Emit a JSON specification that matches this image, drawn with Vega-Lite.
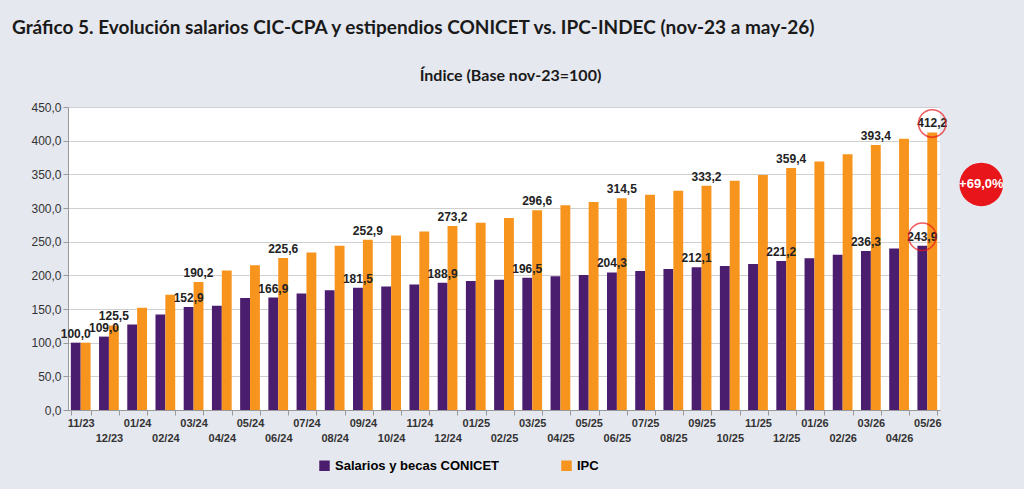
{
  "$schema": "https://vega.github.io/schema/vega-lite/v6.json",
  "width": 872,
  "height": 303,
  "autosize": "none",
  "padding": {"left": 68, "top": 107, "right": 84, "bottom": 79},
  "background": "#e6e8ef",
  "view": {"fill": "white", "stroke": null},
  "title": {"text": "Gráfico 5. Evolución salarios CIC-CPA y estipendios CONICET  vs. IPC-INDEC (nov-23 a may-26)", "anchor": "start", "frame": "group", "dx": -56, "offset": 10, "baseline": "bottom", "font": "Lato", "fontSize": 19, "fontWeight": "bold", "color": "#1a1a1a"},
  "config": {"font": "Liberation Sans", "locale": {"number": {"decimal": ",", "thousands": ".", "grouping": [3], "currency": ["$", ""]}}},
  "data": {"values": [
    {"m":"11/23","s":"Salarios y becas CONICET","v":100.0,"lab":1},{"m":"11/23","s":"IPC","v":100.0,"lab":0},
    {"m":"12/23","s":"Salarios y becas CONICET","v":109.0,"lab":1},{"m":"12/23","s":"IPC","v":125.5,"lab":1},
    {"m":"01/24","s":"Salarios y becas CONICET","v":127,"lab":0},{"m":"01/24","s":"IPC","v":152,"lab":0},
    {"m":"02/24","s":"Salarios y becas CONICET","v":142,"lab":0},{"m":"02/24","s":"IPC","v":171,"lab":0},
    {"m":"03/24","s":"Salarios y becas CONICET","v":152.9,"lab":1},{"m":"03/24","s":"IPC","v":190.2,"lab":1},
    {"m":"04/24","s":"Salarios y becas CONICET","v":155,"lab":0},{"m":"04/24","s":"IPC","v":207,"lab":0},
    {"m":"05/24","s":"Salarios y becas CONICET","v":166.5,"lab":0},{"m":"05/24","s":"IPC","v":215,"lab":0},
    {"m":"06/24","s":"Salarios y becas CONICET","v":166.9,"lab":1},{"m":"06/24","s":"IPC","v":225.6,"lab":1},
    {"m":"07/24","s":"Salarios y becas CONICET","v":173,"lab":0},{"m":"07/24","s":"IPC","v":234,"lab":0},
    {"m":"08/24","s":"Salarios y becas CONICET","v":178,"lab":0},{"m":"08/24","s":"IPC","v":244,"lab":0},
    {"m":"09/24","s":"Salarios y becas CONICET","v":181.5,"lab":1},{"m":"09/24","s":"IPC","v":252.9,"lab":1},
    {"m":"10/24","s":"Salarios y becas CONICET","v":183.5,"lab":0},{"m":"10/24","s":"IPC","v":259,"lab":0},
    {"m":"11/24","s":"Salarios y becas CONICET","v":186.5,"lab":0},{"m":"11/24","s":"IPC","v":265,"lab":0},
    {"m":"12/24","s":"Salarios y becas CONICET","v":188.9,"lab":1},{"m":"12/24","s":"IPC","v":273.2,"lab":1},
    {"m":"01/25","s":"Salarios y becas CONICET","v":191.5,"lab":0},{"m":"01/25","s":"IPC","v":278,"lab":0},
    {"m":"02/25","s":"Salarios y becas CONICET","v":193.5,"lab":0},{"m":"02/25","s":"IPC","v":285,"lab":0},
    {"m":"03/25","s":"Salarios y becas CONICET","v":196.5,"lab":1},{"m":"03/25","s":"IPC","v":296.6,"lab":1},
    {"m":"04/25","s":"Salarios y becas CONICET","v":198.5,"lab":0},{"m":"04/25","s":"IPC","v":304,"lab":0},
    {"m":"05/25","s":"Salarios y becas CONICET","v":200.5,"lab":0},{"m":"05/25","s":"IPC","v":309,"lab":0},
    {"m":"06/25","s":"Salarios y becas CONICET","v":204.3,"lab":1},{"m":"06/25","s":"IPC","v":314.5,"lab":1},
    {"m":"07/25","s":"Salarios y becas CONICET","v":206.5,"lab":0},{"m":"07/25","s":"IPC","v":319.5,"lab":0},
    {"m":"08/25","s":"Salarios y becas CONICET","v":209.5,"lab":0},{"m":"08/25","s":"IPC","v":325.5,"lab":0},
    {"m":"09/25","s":"Salarios y becas CONICET","v":212.1,"lab":1},{"m":"09/25","s":"IPC","v":333.2,"lab":1},
    {"m":"10/25","s":"Salarios y becas CONICET","v":214,"lab":0},{"m":"10/25","s":"IPC","v":340.5,"lab":0},
    {"m":"11/25","s":"Salarios y becas CONICET","v":217,"lab":0},{"m":"11/25","s":"IPC","v":349,"lab":0},
    {"m":"12/25","s":"Salarios y becas CONICET","v":221.2,"lab":1},{"m":"12/25","s":"IPC","v":359.4,"lab":1},
    {"m":"01/26","s":"Salarios y becas CONICET","v":225.5,"lab":0},{"m":"01/26","s":"IPC","v":369,"lab":0},
    {"m":"02/26","s":"Salarios y becas CONICET","v":230.5,"lab":0},{"m":"02/26","s":"IPC","v":380,"lab":0},
    {"m":"03/26","s":"Salarios y becas CONICET","v":236.3,"lab":1},{"m":"03/26","s":"IPC","v":393.4,"lab":1},
    {"m":"04/26","s":"Salarios y becas CONICET","v":240,"lab":0},{"m":"04/26","s":"IPC","v":403,"lab":0},
    {"m":"05/26","s":"Salarios y becas CONICET","v":243.9,"lab":1},{"m":"05/26","s":"IPC","v":412.2,"lab":1}
  ]},
  "encoding": {
    "x": {"field": "m", "type": "ordinal", "sort": null, "scale": {"paddingInner": 0.3, "paddingOuter": 0.1},
      "axis": {"title": null, "labelAngle": 0, "labelFontWeight": "bold", "labelFontSize": 11, "labelColor": "#333",
        "labelExpr": "indexof(['11/23','01/24','03/24','05/24','07/24','09/24','11/24','01/25','03/25','05/25','07/25','09/25','11/25','01/26','03/26','05/26'], datum.value) >= 0 ? datum.value : ['', datum.value]",
        "domainColor": "#999", "tickColor": "#999", "tickBand": "extent", "labelLineHeight": 15}},
    "xOffset": {"field": "s", "type": "nominal", "sort": ["Salarios y becas CONICET", "IPC"], "scale": {"paddingInner": 0}},
    "y": {"field": "v", "type": "quantitative", "scale": {"domain": [0, 450]},
      "axis": {"title": "Índice (Base nov-23=100)", "titleAngle": 0, "titleX": 442, "titleY": -24, "titleAlign": "center", "titleBaseline": "bottom", "titleFont": "Lato", "titleFontSize": 16, "titleFontWeight": "bold", "titleColor": "#1a1a1a",
        "values": [0,50,100,150,200,250,300,350,400,450], "format": ".1f", "labelFontSize": 12, "labelColor": "#333", "gridColor": "#d0d0d0", "domainColor": "#999", "tickColor": "#999", "labelOverlap": false}}
  },
  "layer": [
    {"mark": {"type": "bar"},
      "encoding": {"color": {"field": "s", "type": "nominal", "sort": ["Salarios y becas CONICET", "IPC"],
        "scale": {"domain": ["Salarios y becas CONICET", "IPC"], "range": ["#4b1d6e", "#f7941d"]},
        "legend": {"title": null, "orient": "none", "direction": "horizontal", "legendX": 250, "legendY": 352, "symbolType": "square", "symbolSize": 110, "labelFontSize": 13, "labelFontWeight": "bold", "labelLimit": 300, "columnPadding": 60}}}},
    {"transform": [{"filter": "datum.lab == 1"}],
      "mark": {"type": "text", "dy": -9, "fontSize": 12, "fontWeight": "bold", "color": "#222"},
      "encoding": {"text": {"field": "v", "type": "quantitative", "format": ".1f"}}},
    {"transform": [{"filter": "datum.m == '05/26'"}],
      "mark": {"type": "point", "shape": "circle", "size": 750, "stroke": "#e8151b", "strokeWidth": 1.5, "filled": false, "yOffset": -9},
      "encoding": {}},
    {"transform": [{"filter": "datum.m == '05/26' && datum.s == 'IPC'"}],
      "mark": {"type": "point", "shape": "circle", "size": 1900, "fill": "#e8151b", "opacity": 1, "stroke": null, "xOffset": 54, "yOffset": 52},
      "encoding": {"xOffset": null}},
    {"transform": [{"filter": "datum.m == '05/26' && datum.s == 'IPC'"}],
      "mark": {"type": "text", "text": "+69,0%", "color": "white", "fontWeight": "bold", "fontSize": 13, "xOffset": 54, "yOffset": 52},
      "encoding": {"xOffset": null}}
  ]
}
